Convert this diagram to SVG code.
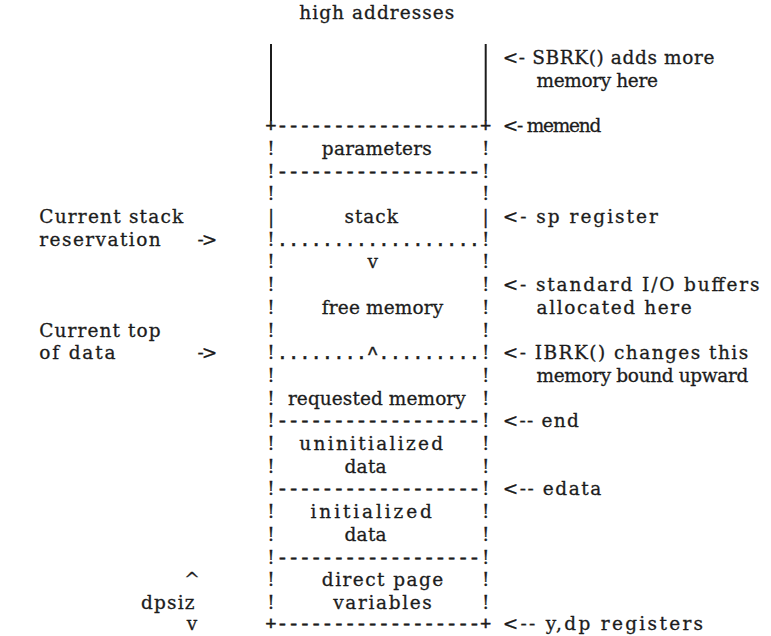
<svg xmlns="http://www.w3.org/2000/svg" width="771" height="636" viewBox="0 0 771 636" xml:space="preserve">
<style>
.t{font-family:"DejaVu Serif","Liberation Serif",serif;font-size:18.5px;fill:#1c1c1c;stroke:#1c1c1c;stroke-width:0.3px;white-space:pre}
.d{font-family:"Liberation Mono","Courier New",monospace;font-size:18.83px;fill:#1c1c1c;stroke:#1c1c1c;stroke-width:0.6px;white-space:pre}
.m{text-anchor:middle}
.ln{stroke:#1c1c1c;stroke-width:2;fill:none}
</style>
<rect x="0" y="0" width="771" height="636" fill="#ffffff"/>
<g id="title"><text class="t" x="299.25" y="19" textLength="155" lengthAdjust="spacing">high addresses</text></g>
<g id="node-unallocated">
<line class="ln" x1="271" y1="44" x2="271" y2="121"/>
<line class="ln" x1="485.7" y1="44" x2="485.7" y2="121"/>
</g>
<g id="node-parameters">
<text class="d" x="265.35" y="132">+------------------+</text>
<text class="t m" x="271" y="155">!</text><text class="t" x="321.85" y="155" textLength="110" lengthAdjust="spacing">parameters</text><text class="t m" x="485.7" y="155">!</text>
<text class="t m" x="271" y="177.6">!</text><text class="d" x="276.65" y="177.6">------------------</text><text class="t m" x="485.7" y="177.6">!</text>
</g>
<g id="node-stack">
<text class="t m" x="271" y="200.3">!</text><text class="t m" x="485.7" y="200.3">!</text>
<text class="t m" x="271" y="223">|</text><text class="t" x="344.45" y="223" textLength="53.5" lengthAdjust="spacing">stack</text><text class="t m" x="485.7" y="223">|</text>
<text class="t m" x="271" y="245.7">!</text><text class="d" x="276.65" y="245.7">..................</text><text class="t m" x="485.7" y="245.7">!</text>
</g>
<g id="node-free-memory">
<text class="t m" x="271" y="268.4">!</text><text class="t m" x="372.7" y="268.4">v</text><text class="t m" x="485.7" y="268.4">!</text>
<text class="t m" x="271" y="291.1">!</text><text class="t m" x="485.7" y="291.1">!</text>
<text class="t m" x="271" y="313.8">!</text><text class="t" x="321.85" y="313.8" textLength="121.3" lengthAdjust="spacing">free memory</text><text class="t m" x="485.7" y="313.8">!</text>
<text class="t m" x="271" y="336.5">!</text><text class="t m" x="485.7" y="336.5">!</text>
<text class="t m" x="271" y="359.2">!</text><text class="d" x="276.65" y="359.2">........^.........</text><text class="t m" x="485.7" y="359.2">!</text>
</g>
<g id="node-requested-memory">
<text class="t m" x="271" y="381.9">!</text><text class="t m" x="485.7" y="381.9">!</text>
<text class="t m" x="271" y="404.6">!</text><text class="t" x="287.95" y="404.6" textLength="177.8" lengthAdjust="spacing">requested memory</text><text class="t m" x="485.7" y="404.6">!</text>
<text class="t m" x="271" y="427.3">!</text><text class="d" x="276.65" y="427.3">------------------</text><text class="t m" x="485.7" y="427.3">!</text>
</g>
<g id="node-uninitialized-data">
<text class="t m" x="271" y="450">!</text><text class="t" x="299.25" y="450" textLength="143.9" lengthAdjust="spacing">uninitialized</text><text class="t m" x="485.7" y="450">!</text>
<text class="t m" x="271" y="472.7">!</text><text class="t" x="344.45" y="472.7" textLength="42.2" lengthAdjust="spacing">data</text><text class="t m" x="485.7" y="472.7">!</text>
<text class="t m" x="271" y="495.4">!</text><text class="d" x="276.65" y="495.4">------------------</text><text class="t m" x="485.7" y="495.4">!</text>
</g>
<g id="node-initialized-data">
<text class="t m" x="271" y="518.1">!</text><text class="t" x="310.55" y="518.1" textLength="121.3" lengthAdjust="spacing">initialized</text><text class="t m" x="485.7" y="518.1">!</text>
<text class="t m" x="271" y="540.8">!</text><text class="t" x="344.45" y="540.8" textLength="42.2" lengthAdjust="spacing">data</text><text class="t m" x="485.7" y="540.8">!</text>
<text class="t m" x="271" y="563.5">!</text><text class="d" x="276.65" y="563.5">------------------</text><text class="t m" x="485.7" y="563.5">!</text>
</g>
<g id="node-direct-page">
<text class="t m" x="271" y="586.2">!</text><text class="t" x="321.85" y="586.2" textLength="121.3" lengthAdjust="spacing">direct page</text><text class="t m" x="485.7" y="586.2">!</text>
<text class="t m" x="271" y="608.9">!</text><text class="t" x="333.15" y="608.9" textLength="98.7" lengthAdjust="spacing">variables</text><text class="t m" x="485.7" y="608.9">!</text>
<text class="d" x="265.35" y="629.8">+------------------+</text>
</g>
<g id="connectors">
<g id="ptr-sbrk">
<text class="t" x="502.65" y="64.1" textLength="211.7" lengthAdjust="spacing">&lt;- SBRK() adds more</text>
<text class="t" x="536.55" y="86.8" textLength="121.3" lengthAdjust="spacing">memory here</text>
</g>
<g id="ptr-memend"><text class="t" x="502.65" y="132" textLength="98.7" lengthAdjust="spacing">&lt;- memend</text></g>
<g id="ptr-sp"><text class="t" x="502.65" y="223" textLength="155.2" lengthAdjust="spacing">&lt;- sp register</text></g>
<g id="ptr-io">
<text class="t" x="502.65" y="291.1" textLength="256.9" lengthAdjust="spacing">&lt;- standard I/O buffers</text>
<text class="t" x="536.55" y="313.8" textLength="155.2" lengthAdjust="spacing">allocated here</text>
</g>
<g id="ptr-ibrk">
<text class="t" x="502.65" y="359.2" textLength="245.6" lengthAdjust="spacing">&lt;- IBRK() changes this</text>
<text class="t" x="536.55" y="381.9" textLength="211.7" lengthAdjust="spacing">memory bound upward</text>
</g>
<g id="ptr-end"><text class="t" x="502.65" y="427.3" textLength="76.1" lengthAdjust="spacing">&lt;-- end</text></g>
<g id="ptr-edata"><text class="t" x="502.65" y="495.4" textLength="98.7" lengthAdjust="spacing">&lt;-- edata</text></g>
<g id="ptr-ydp"><text class="t" x="502.65" y="629.8" textLength="200.4" lengthAdjust="spacing">&lt;-- y,dp registers</text></g>
<g id="ptr-stack-res">
<text class="t" x="39.35" y="223" textLength="143.9" lengthAdjust="spacing">Current stack</text>
<text class="t" x="39.35" y="245.7" textLength="121.3" lengthAdjust="spacing">reservation</text>
<text class="t" x="197.55" y="245.7" textLength="19.6" lengthAdjust="spacing">-&gt;</text>
</g>
<g id="ptr-top-data">
<text class="t" x="39.35" y="336.5" textLength="121.3" lengthAdjust="spacing">Current top</text>
<text class="t" x="39.35" y="359.2" textLength="76.1" lengthAdjust="spacing">of data</text>
<text class="t" x="197.55" y="359.2" textLength="19.6" lengthAdjust="spacing">-&gt;</text>
</g>
<g id="ptr-dpsiz">
<text class="t m" x="191.9" y="586.2">^</text>
<text class="t" x="141.05" y="608.9" textLength="53.5" lengthAdjust="spacing">dpsiz</text>
<text class="t m" x="191.9" y="629.8">v</text>
</g>
</g>
</svg>
